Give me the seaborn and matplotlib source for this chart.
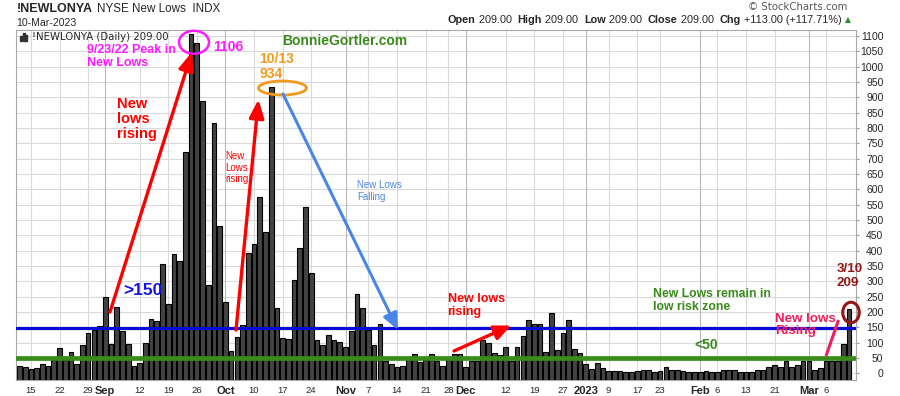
import numpy as np
import pandas as pd
import matplotlib
matplotlib.use("Agg")
import matplotlib.pyplot as plt
import seaborn as sns
from matplotlib.patches import Ellipse, Rectangle

# ---------------- data ----------------
holidays = ["2022-09-05", "2022-11-24", "2022-12-26", "2023-01-02", "2023-01-16", "2023-02-20"]
aug_lows = [24, 20, 13, 16, 29, 23, 42, 82, 42, 69, 29, 91, 131, 141, 153]
sep_lows = [248, 95, 215, 137, 95, 23, 33, 98, 176, 171, 356, 225, 388, 367, 721, 1106,
            1077, 889, 287, 816, 479]
oct_lows = [232, 73, 118, 158, 392, 421, 575, 461, 934, 213, 114, 111, 305, 408, 542, 326,
            108, 92, 124, 109, 103]
nov_lows = [85, 137, 259, 212, 141, 91, 161, 41, 30, 21, 24, 50, 62, 37, 43, 62, 41, 23, 50, 62, 62]
dec_lows = [20, 41, 41, 109, 98, 65, 60, 85, 41, 85, 122, 174, 161, 161, 69, 196, 76, 131, 174, 78, 65]
jan_lows = [30, 14, 33, 17, 8, 8, 8, 5, 5, 8, 12, 12, 5, 8, 20, 10, 10, 8, 5, 5]
feb_lows = [3, 8, 5, 3, 10, 10, 10, 5, 5, 5, 12, 12, 22, 28, 22, 40, 20, 28, 40]
mar_lows = [40, 12, 16, 40, 40, 40, 96, 209]

tick_dates = ["2022-08-15", "2022-08-22", "2022-08-29", "2022-09-01", "2022-09-12", "2022-09-19",
              "2022-09-26", "2022-10-03", "2022-10-10", "2022-10-17", "2022-10-24", "2022-11-01",
              "2022-11-07", "2022-11-14", "2022-11-21", "2022-11-28", "2022-12-01", "2022-12-12",
              "2022-12-19", "2022-12-27", "2023-01-03", "2023-01-09", "2023-01-17", "2023-01-23",
              "2023-02-01", "2023-02-06", "2023-02-13", "2023-02-21", "2023-03-01", "2023-03-06"]
tick_labels = ["15", "22", "29", "Sep", "12", "19", "26", "Oct", "10", "17", "24", "Nov", "7",
               "14", "21", "28", "Dec", "12", "19", "27", "2023", "9", "17", "23", "Feb", "6",
               "13", "21", "Mar", "6"]
month_labels = {"Sep", "Oct", "Nov", "Dec", "2023", "Feb", "Mar"}
y_ticks = list(range(0, 1101, 50))

dates = pd.bdate_range("2022-08-11", "2023-03-10")
dates = dates[~dates.isin(pd.to_datetime(holidays))]
values = aug_lows + sep_lows + oct_lows + nov_lows + dec_lows + jan_lows + feb_lows + mar_lows
df = pd.DataFrame({"day": np.arange(len(dates)), "date": dates, "lows": values})

# ---------------- layout ----------------
W, H = 900, 396
PX_L, PX_R, PX_T, PX_B = 16, 856, 30, 380
XMIN, XMAX = -0.61, 146.24
YMIN, YMAX = -22, 1120


def dx(px):
    return XMIN + (px - PX_L) / (PX_R - PX_L) * (XMAX - XMIN)


def dy(py):
    return YMIN + (PX_B - py) / (PX_B - PX_T) * (YMAX - YMIN)


def sx(wpx):
    return wpx * (XMAX - XMIN) / (PX_R - PX_L)


def sy(hpx):
    return hpx * (YMAX - YMIN) / (PX_B - PX_T)


def fx(px):
    return px / W


def fy(py):
    return 1 - py / H


sns.set_style("white")
plt.rcParams["font.family"] = ["Liberation Sans", "DejaVu Sans"]

fig = plt.figure(figsize=(W / 100, H / 100), dpi=100)
ax = fig.add_axes([PX_L / W, (H - PX_B) / H, (PX_R - PX_L) / W, (PX_B - PX_T) / H])

sns.barplot(data=df, x="day", y="lows", color="#434343", saturation=1, edgecolor="black",
            linewidth=0.8, width=0.82, ax=ax, zorder=2)
# bars start at the bottom of the plotting area, as in the StockCharts rendering
for p in ax.patches:
    h = p.get_height()
    p.set_y(YMIN)
    p.set_height(h - YMIN)

ax.set_xlim(XMIN, XMAX)
ax.set_ylim(YMIN, YMAX)
ax.set_xlabel("")
ax.set_ylabel("")

# grid
for v in y_ticks:
    ax.axhline(v, color="#dadada", lw=0.8, zorder=0)
pos_lookup = {d: i for i, d in enumerate(df["date"])}
tick_pos = [pos_lookup[pd.Timestamp(d)] for d in tick_dates]
for p, lab in zip(tick_pos, tick_labels):
    ax.axvline(p, color="#b8b8b8" if lab in month_labels else "#dadada", lw=0.8, zorder=0)

# axes ticks
ax.set_xticks(tick_pos)
ax.set_xticklabels(tick_labels)
for t in ax.get_xticklabels():
    if t.get_text() in month_labels:
        t.set_fontweight("bold")
        t.set_fontsize(8)
    else:
        t.set_fontsize(6.8)
ax.set_xticks(df["day"].tolist(), minor=True)
ax.tick_params(axis="x", which="major", length=2, color="#999999", pad=2.5)
ax.tick_params(axis="x", which="minor", length=1.5, color="#bbbbbb")

ax.yaxis.tick_right()
ax.set_yticks(y_ticks)
ax.set_yticklabels([str(v) for v in y_ticks])
ax.tick_params(axis="y", length=2.5, color="#999999", labelsize=7.5, pad=17.3)
for t in ax.get_yticklabels():
    t.set_horizontalalignment("right")

for s in ax.spines.values():
    s.set_color("#a8a8a8")
    s.set_linewidth(0.8)

# reference lines
ax.axhline(148, color="#0a0ad8", lw=2.3, zorder=4)
ax.axhline(49, color="#3a8a1c", lw=3.4, zorder=4)

# ---------------- annotations ----------------
MAG = "#ff1aff"
RED = "#ff0000"
ORANGE = "#f39a1e"
LBLUE = "#4a86e8"
GREEN = "#3a8a1c"
CRIMSON = "#f21d5c"
DRED = "#951515"

ax.text(dx(87), dy(44), "9/23/22 Peak in\nNew Lows", color=MAG, fontsize=9, weight="bold",
        va="top", ha="left", linespacing=1.12, zorder=6)
ax.text(dx(213), dy(47), "1106", color=MAG, fontsize=10, weight="bold", va="center", zorder=6)
ax.add_patch(Ellipse((dx(194), dy(42.3)), sx(30), sy(23), fill=False, ec=MAG, lw=1.8,
                     clip_on=False, zorder=6))

ax.annotate("", xy=(dx(192), dy(52)), xytext=(dx(110), dy(312)),
            arrowprops=dict(arrowstyle="-|>,head_length=1.1,head_width=0.45", color=RED, lw=2.4,
                            mutation_scale=10, shrinkA=0, shrinkB=0), zorder=6)
ax.text(dx(116.5), dy(97), "New\nlows\nrising", color=RED, fontsize=10.5, weight="bold",
        va="top", ha="left", linespacing=1.08, zorder=6)
ax.text(dx(123), dy(290.5), ">150", color="#1414e6", fontsize=12.5, weight="bold",
        va="center", ha="left", zorder=6)

ax.text(dx(225), dy(151), "New\nLows\nrising", color=RED, fontsize=7, va="top", ha="left",
        linespacing=1.2, zorder=6)
ax.annotate("", xy=(dx(258.5), dy(99.5)), xytext=(dx(236), dy(330)),
            arrowprops=dict(arrowstyle="-|>,head_length=1.1,head_width=0.45", color=RED, lw=2.4,
                            mutation_scale=10, shrinkA=0, shrinkB=0), zorder=6)

ax.text(dx(259), dy(52), "10/13\n934", color=ORANGE, fontsize=10, weight="bold", va="top",
        ha="left", linespacing=1.1, zorder=6)
ax.add_patch(Ellipse((dx(282.5), dy(88)), sx(48), sy(14), fill=False, ec=ORANGE, lw=2.0,
                     zorder=6))
ax.annotate("", xy=(dx(398), dy(330)), xytext=(dx(283), dy(94)),
            arrowprops=dict(arrowstyle="-|>,head_length=1.0,head_width=0.45", color=LBLUE, lw=2.2,
                            mutation_scale=10, shrinkA=0, shrinkB=0), zorder=6)
ax.text(dx(357), dy(180), "New Lows\nFalling", color=LBLUE, fontsize=7, va="top", ha="left",
        linespacing=1.25, zorder=6)

ax.text(dx(282), dy(41), "BonnieGortler.com", color=GREEN, fontsize=10, weight="bold",
        va="center", ha="left", zorder=6)

ax.text(dx(447.5), dy(293.5), "New lows\nrising", color=RED, fontsize=9, weight="bold",
        va="top", ha="left", linespacing=1.1, zorder=6)
ax.annotate("", xy=(dx(511), dy(325.5)), xytext=(dx(454), dy(351)),
            arrowprops=dict(arrowstyle="-|>,head_length=1.0,head_width=0.45", color=RED, lw=2.4,
                            mutation_scale=10, shrinkA=0, shrinkB=0), zorder=6)

ax.text(dx(653), dy(288), "New Lows remain in\nlow risk zone", color=GREEN, fontsize=8.8,
        weight="bold", va="top", ha="left", linespacing=1.12, zorder=6)
ax.text(dx(694), dy(345), "<50", color=GREEN, fontsize=10, weight="bold", va="center",
        ha="left", zorder=6)

ax.text(dx(775.5), dy(313), "New lows\nRising", color=CRIMSON, fontsize=9.6, weight="bold",
        va="top", ha="left", linespacing=1.05, zorder=7)
ax.plot([dx(826), dx(838.5)], [dy(356), dy(320)], color=CRIMSON, lw=2.2, zorder=6,
        solid_capstyle="butt")

ax.text(dx(837), dy(263.5), "3/10\n209", color=DRED, fontsize=9.6, weight="bold", va="top",
        ha="left", linespacing=1.12, zorder=6, clip_on=False)
ax.add_patch(Ellipse((dx(851), dy(312.5)), sx(16.5), sy(20.5), fill=False, ec=DRED, lw=2.2,
                     clip_on=False, zorder=6))

# ---------------- header ----------------
fig.text(fx(16.5), fy(9), "!NEWLONYA", fontsize=9.0, weight="bold", va="center", ha="left")
fig.text(fx(97), fy(9), "NYSE New Lows  INDX", fontsize=8.4, va="center", ha="left")
fig.text(fx(16.5), fy(23), "10-Mar-2023", fontsize=7.6, va="center", ha="left")
fig.text(fx(847), fy(7.5), "\u00a9 StockCharts.com", fontsize=7.3, color="#555555",
         va="center", ha="right", family=["DejaVu Sans"])

# plot title inside
ax.text(dx(32), dy(37), "!NEWLONYA (Daily) 209.00", fontsize=7.3, family=["DejaVu Sans"],
        va="center", ha="left", zorder=6)
for (x0, h) in [(20.0, 5), (22.5, 8), (25.0, 6)]:
    fig.add_artist(Rectangle((fx(x0), fy(41)), 2 / W, h / H, color="#333333"))

# OHLC line
pieces = [("Open", "bold"), (" 209.00  ", "normal"), ("High", "bold"), (" 209.00  ", "normal"),
          ("Low", "bold"), (" 209.00  ", "normal"), ("Close", "bold"), (" 209.00  ", "normal"),
          ("Chg", "bold"), (" +113.00 (+117.71%) ", "normal")]
renderer = fig.canvas.get_renderer()
xcur = 448
for txt, wt in pieces:
    t = fig.text(fx(xcur), fy(20), txt, fontsize=7.8, weight=wt, va="center", ha="left")
    bb = t.get_window_extent(renderer=renderer)
    xcur += bb.width
fig.text(fx(xcur), fy(19.5), "\u25b2", fontsize=5.5, color="#2e8b2e", va="center", ha="left",
         family=["DejaVu Sans"])

fig.savefig("out.png", dpi=100)
